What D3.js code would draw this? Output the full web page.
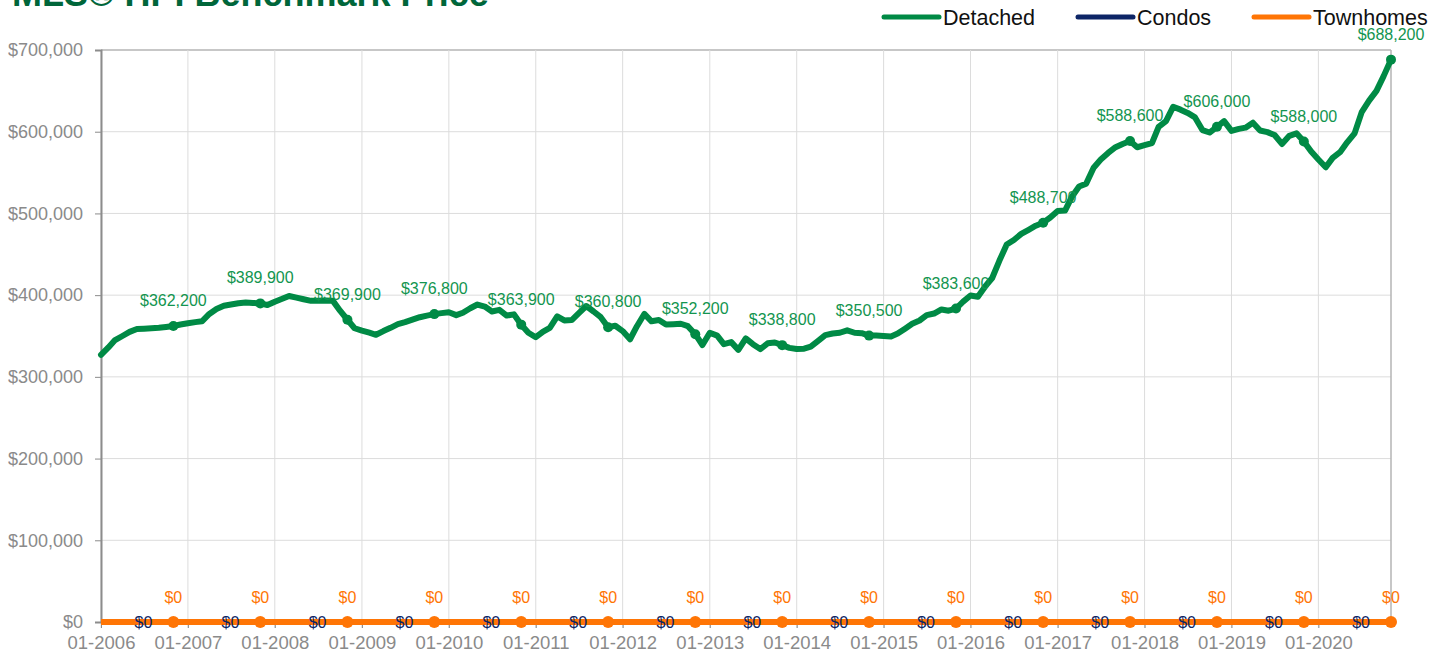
<!DOCTYPE html>
<html>
<head>
  <meta charset="utf-8">
  <title>MLS HPI Benchmark Price</title>
  <script src="https://d3js.org/d3.v7.min.js"></script>
  <style>
    body { margin: 0; background: white; }
    text { font-family: "Liberation Sans", Arial, Helvetica, sans-serif; }
  </style>
</head>
<body>
  <div id="graphContainer"></div>
  <script>
    // monthly, 01-2006 .. 11-2020
    var startMonth = "2006-01";
    var detached = [
      327000, 336000, 345000, 350000, 355000, 358500, 359000, 359500, 360000, 361000, 362200, 364000,
      365500, 367000, 368000, 377000, 383000, 387000, 388500, 390000, 391000, 390500, 389900, 388000,
      392000, 395500, 399000, 397000, 395000, 393000, 393000, 393500, 393000, 381000, 369900, 359500,
      356500, 354000, 351500, 356000, 360000, 364500, 367000, 370000, 373000, 375000, 376800, 378000,
      379000, 375500, 378500, 384000, 388500, 386000, 380000, 382000, 375000, 376500, 363900, 354000,
      348500, 355500, 360000, 374000, 369000, 369500, 378000, 386700, 380000, 373000, 360800, 362500,
      356000, 346000, 362000, 377000, 368000, 369500, 364000, 364500, 365000, 362000, 352200, 339000,
      354000, 350500, 340000, 342500, 333000, 347000, 340000, 334000, 341000, 342000, 338800, 335500,
      334000, 334500, 337000, 344000, 351000, 353000, 354000, 357000, 354000, 353500, 350500, 350500,
      350000, 349500, 353000, 359000, 365000, 369000, 375500, 377500, 382500, 381000, 383600, 392000,
      399500, 398000, 410000, 421000, 442000, 462000, 467500, 475000, 480000, 485000, 488700, 495000,
      503000, 503500, 520000, 533000, 536500, 556000, 566000, 574000, 581000, 585000, 588600, 581000,
      583500, 586000, 606000, 613000, 630500, 627000, 623000, 617500, 602000, 599000, 606000, 613000,
      601000, 603500, 605000, 611000, 601500, 599500, 596000, 585000, 595000, 598000, 588000, 576000,
      566000, 556500, 568000, 575000, 587000, 598000, 624000, 638000, 650000, 668000, 688200
    ];
    var condos = [
      0,0,0,0,0,0,0,0,0,0,0,0, 0,0,0,0,0,0,0,0,0,0,0,0, 0,0,0,0,0,0,0,0,0,0,0,0,
      0,0,0,0,0,0,0,0,0,0,0,0, 0,0,0,0,0,0,0,0,0,0,0,0, 0,0,0,0,0,0,0,0,0,0,0,0,
      0,0,0,0,0,0,0,0,0,0,0,0, 0,0,0,0,0,0,0,0,0,0,0,0, 0,0,0,0,0,0,0,0,0,0,0,0,
      0,0,0,0,0,0,0,0,0,0,0,0, 0,0,0,0,0,0,0,0,0,0,0,0, 0,0,0,0,0,0,0,0,0,0,0,0,
      0,0,0,0,0,0,0,0,0,0,0,0, 0,0,0,0,0,0,0,0,0,0,0,0, 0,0,0,0,0,0,0,0,0,0,0
    ];
    var townhomes = [
      0,0,0,0,0,0,0,0,0,0,0,0, 0,0,0,0,0,0,0,0,0,0,0,0, 0,0,0,0,0,0,0,0,0,0,0,0,
      0,0,0,0,0,0,0,0,0,0,0,0, 0,0,0,0,0,0,0,0,0,0,0,0, 0,0,0,0,0,0,0,0,0,0,0,0,
      0,0,0,0,0,0,0,0,0,0,0,0, 0,0,0,0,0,0,0,0,0,0,0,0, 0,0,0,0,0,0,0,0,0,0,0,0,
      0,0,0,0,0,0,0,0,0,0,0,0, 0,0,0,0,0,0,0,0,0,0,0,0, 0,0,0,0,0,0,0,0,0,0,0,0,
      0,0,0,0,0,0,0,0,0,0,0,0, 0,0,0,0,0,0,0,0,0,0,0,0, 0,0,0,0,0,0,0,0,0,0,0
    ];
    var seriesNames = ["Detached", "Condos", "Townhomes"];
    var yTicks = [0, 100000, 200000, 300000, 400000, 500000, 600000, 700000];
    var title = "MLS® HPI Benchmark Price";

    var width = 1448;
    var height = 660;
    var margin = { top: 50, right: 57, bottom: 38, left: 101 };
    var green = "#008a45", greenText = "#13954f", navy = "#0d2566", orange = "#ff7505";

    var parseMonth = d3.timeParse("%Y-%m");
    var start = parseMonth(startMonth);
    var dates = detached.map(function (d, i) { return d3.timeMonth.offset(start, i); });

    var svg = d3.select("#graphContainer")
      .append("svg")
        .attr("width", width)
        .attr("height", height);

    var x = d3.scaleTime()
      .domain([dates[0], dates[dates.length - 1]])
      .range([margin.left, width - margin.right]);
    var y = d3.scaleLinear()
      .domain([0, 700000])
      .range([height - margin.bottom, margin.top]);

    // grid
    svg.append("g")
      .selectAll("line.h")
      .data(yTicks)
      .join("line")
        .attr("x1", margin.left).attr("x2", width - margin.right)
        .attr("y1", function (d) { return y(d); }).attr("y2", function (d) { return y(d); })
        .attr("stroke", function (d) { return d === 700000 ? "#b5b5b5" : "#dcdcdc"; })
        .attr("stroke-width", function (d) { return d === 700000 ? 1.5 : 1; });
    var years = x.ticks(d3.timeYear.every(1));
    svg.append("g")
      .selectAll("line")
      .data(years)
      .join("line")
        .attr("x1", function (d) { return x(d); }).attr("x2", function (d) { return x(d); })
        .attr("y1", margin.top).attr("y2", height - margin.bottom + 6)
        .attr("stroke", "#dcdcdc");
    svg.append("line")
      .attr("x1", width - margin.right).attr("x2", width - margin.right)
      .attr("y1", margin.top).attr("y2", height - margin.bottom)
      .attr("stroke", "#b5b5b5").attr("stroke-width", 1.5);

    // axes
    var yAxis = svg.append("g")
      .attr("transform", "translate(" + margin.left + ",0)")
      .call(d3.axisLeft(y).tickValues(yTicks).tickSize(6).tickPadding(12)
        .tickFormat(function (d) { return "$" + d3.format(",")(d); }));
    yAxis.select(".domain").attr("stroke", "#8c8c8c").attr("stroke-width", 2);
    yAxis.selectAll(".tick line").attr("stroke", "#8c8c8c");
    yAxis.selectAll("text").attr("fill", "#8a8a8a").style("font-size", "18px")
      .style("font-family", "'Liberation Sans', Arial, sans-serif");

    var xAxis = svg.append("g")
      .attr("transform", "translate(0," + (height - margin.bottom) + ")")
      .call(d3.axisBottom(x).ticks(d3.timeYear.every(1)).tickSize(6).tickPadding(8)
        .tickFormat(d3.timeFormat("%m-%Y")));
    xAxis.select(".domain").remove();
    xAxis.selectAll(".tick line").attr("stroke", "#8c8c8c");
    xAxis.selectAll("text").attr("fill", "#8a8a8a").style("font-size", "18.5px")
      .style("font-family", "'Liberation Sans', Arial, sans-serif");

    var line = d3.line()
      .x(function (d, i) { return x(dates[i]); })
      .y(function (d) { return y(d); });

    var labelIdx = dates.map(function (d, i) { return i; })
      .filter(function (i) { return i % 12 === 10; });

    // detached
    svg.append("path").datum(detached)
      .attr("d", line).attr("fill", "none").attr("stroke", green)
      .attr("stroke-width", 6).attr("stroke-linejoin", "round").attr("stroke-linecap", "round");
    svg.append("g").selectAll("circle").data(labelIdx).join("circle")
      .attr("cx", function (i) { return x(dates[i]); })
      .attr("cy", function (i) { return y(detached[i]); })
      .attr("r", 5).attr("fill", green);

    // condos
    svg.append("path").datum(condos)
      .attr("d", line).attr("fill", "none").attr("stroke", navy).attr("stroke-width", 6);

    // townhomes
    svg.append("path").datum(townhomes)
      .attr("d", line).attr("fill", "none").attr("stroke", orange).attr("stroke-width", 6);
    svg.append("g").selectAll("circle").data(labelIdx).join("circle")
      .attr("cx", function (i) { return x(dates[i]); })
      .attr("cy", function (i) { return y(townhomes[i]); })
      .attr("r", 6).attr("fill", orange);

    var money = function (v) { return "$" + d3.format(",")(v); };

    svg.append("g").selectAll("text").data(labelIdx).join("text")
      .attr("x", function (i) { return x(dates[i]); })
      .attr("y", function (i) { return y(detached[i]) - 20; })
      .attr("text-anchor", "middle").attr("fill", greenText).style("font-size", "16px")
      .text(function (i) { return money(detached[i]); });

    svg.append("g").selectAll("text").data(labelIdx).join("text")
      .attr("x", function (i) { return x(dates[i]) - 21; })
      .attr("y", function (i) { return y(condos[i]) + 6; })
      .attr("text-anchor", "end").attr("fill", navy).style("font-size", "16px")
      .text(function (i) { return money(condos[i]); });

    svg.append("g").selectAll("text").data(labelIdx).join("text")
      .attr("x", function (i) { return x(dates[i]); })
      .attr("y", function (i) { return y(townhomes[i]) - 19; })
      .attr("text-anchor", "middle").attr("fill", orange).style("font-size", "16px")
      .text(function (i) { return money(townhomes[i]); });

    // title (partly above the page edge, as in the source)
    svg.append("text")
      .attr("x", 12).attr("y", 6)
      .attr("fill", "#00663a").style("font-size", "36px").style("font-weight", "bold")
      .text(title);

    // legend
    var legendX = [884, 1078, 1254];
    var legendColors = [green, navy, orange];
    var legend = svg.append("g").selectAll("g").data(seriesNames).join("g")
      .attr("transform", function (d, i) { return "translate(" + legendX[i] + ",17)"; });
    legend.append("line")
      .attr("x1", 0).attr("x2", 55)
      .attr("stroke", function (d, i) { return legendColors[i]; })
      .attr("stroke-width", 5).attr("stroke-linecap", "round");
    legend.append("text")
      .attr("x", 59).attr("y", 7.5)
      .attr("fill", "#111").style("font-size", "21.5px")
      .text(function (d) { return d; });
  </script>
</body>
</html>
